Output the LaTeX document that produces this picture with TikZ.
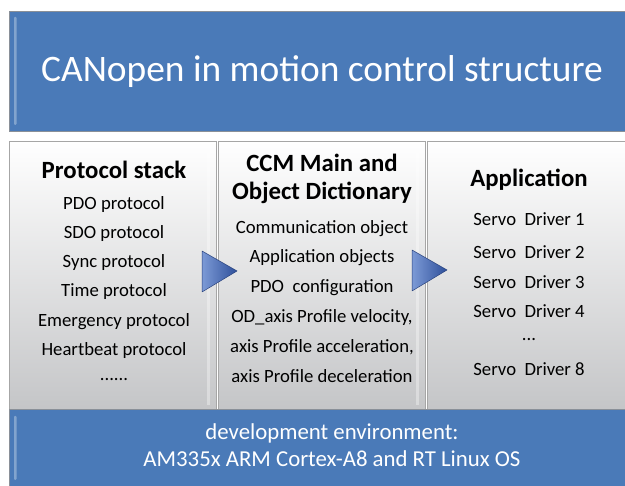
\documentclass[tikz,border=0pt]{standalone}
\usepackage{fontspec}
\setmainfont{Carlito}
\usetikzlibrary{shadings}
\definecolor{barblue}{HTML}{4A7AB8}
\definecolor{barshade}{HTML}{8A9098}
\definecolor{panelgray}{HTML}{C4C5C7}
\definecolor{arrowdark}{HTML}{2E4F9A}
\definecolor{arrowlight}{HTML}{7C9AD6}
\tikzset{
  bar/.style={fill=barblue, draw=barshade, line width=0.8pt},
  barglow/.style={fill=barblue!55!white, rounded corners=1pt, opacity=0.7},
  panel/.style={top color=white, bottom color=panelgray, draw=gray!70, line width=0.6pt},
  panelglow/.style={fill=white, opacity=0.35},
  title/.style={text=white, font=\fontsize{37.4}{42}\selectfont},
  head/.style={text=black, font=\bfseries\fontsize{24.8}{28}\selectfont, align=center},
  item/.style={text=black, font=\fontsize{18.7}{22}\selectfont},
  foot/.style={text=white, font=\fontsize{22.8}{27}\selectfont, align=center},
  flow/.style={left color=arrowlight, right color=arrowdark, draw=arrowdark!80!black, line width=0.5pt, line join=round}
}
\begin{document}
\begin{tikzpicture}[x=1pt, y=-1pt]
\useasboundingbox (0,0) rectangle (625,486);
\fill[white] (0,0) rectangle (625,486);

% title bar
\draw[bar] (9,11) rectangle (630,131);
\fill[barglow] (14,17) rectangle (16.5,125);
\node[title] (title) at (322,72) {CANopen in motion control structure};

% three panels
\draw[panel] (9,141) rectangle (216,412);
\draw[panel] (218,141) rectangle (425,412);
\draw[panel] (427,141) rectangle (630,412);
\fill[panelglow] (207,150) rectangle (210,405);
\fill[panelglow] (416,150) rectangle (419,405);

% protocol stack
\node[head] (ps) at (114,170) {Protocol stack};
\node[item] (ps1) at (114,205) {PDO protocol};
\node[item] (ps2) at (114,234) {SDO protocol};
\node[item] (ps3) at (114,263) {Sync protocol};
\node[item] (ps4) at (114,292) {Time protocol};
\node[item] (ps5) at (114,322) {Emergency protocol};
\node[item] (ps6) at (114,351) {Heartbeat protocol};
\node[item] (ps7) at (114,380) {......};

% CCM main and object dictionary
\node[head] (od) at (322,179) {CCM Main and\\Object Dictionary};
\node[item] (od1) at (322,229) {Communication object};
\node[item] (od2) at (322,258) {Application objects};
\node[item] (od3) at (322,288) {PDO\ \ configuration};
\node[item] (od4) at (322,318) {OD\_axis Profile velocity,};
\node[item] (od5) at (322,347) {axis Profile acceleration,};
\node[item] (od6) at (322,376) {axis Profile deceleration};

% application
\node[head] (app) at (529,180) {Application};
\node[item] (ap1) at (529,219) {Servo\ \ Driver 1};
\node[item] (ap2) at (529,252) {Servo\ \ Driver 2};
\node[item] (ap3) at (529,282) {Servo\ \ Driver 3};
\node[item] (ap4) at (529,311) {Servo\ \ Driver 4};
\node[item] (ap5) at (529,340) {...};
\node[item] (ap6) at (529,369) {Servo\ \ Driver 8};

% flow triangles between panels
\draw[flow] (202,251) -- (237,271) -- (202,292) -- cycle;
\draw[flow] (412,250) -- (447,270) -- (412,291) -- cycle;

% development environment bar
\draw[bar] (9,409) rectangle (630,490);
\fill[barglow] (14,416) rectangle (16.5,480);
\node[foot] (env) at (332,445) {development environment:\\AM335x ARM Cortex-A8 and RT Linux OS};
\end{tikzpicture}
\end{document}
